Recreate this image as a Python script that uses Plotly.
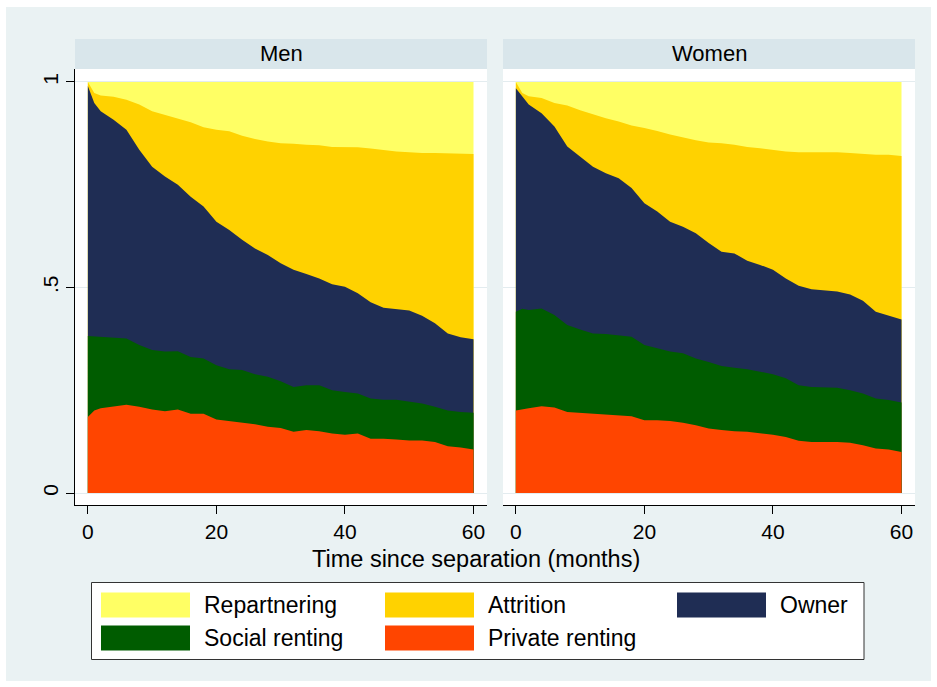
import plotly.graph_objects as go

# ---- data (cumulative upper boundaries of each stacked layer) ----
months = [0, 1, 2, 4, 6, 8, 10, 12, 14, 16, 18, 20, 22, 24, 26, 28, 30,
          32, 34, 36, 38, 40, 42, 44, 46, 48, 50, 52, 54, 56, 58, 60]

men_repartnering = [1.0] * 32
men_attrition = [1.000, 0.973, 0.967, 0.964, 0.957, 0.945, 0.929, 0.920, 0.912, 0.902, 0.890,
                 0.884, 0.880, 0.869, 0.861, 0.855, 0.851, 0.850, 0.847, 0.846, 0.842, 0.841,
                 0.841, 0.838, 0.834, 0.831, 0.829, 0.827, 0.827, 0.826, 0.825, 0.825]
men_owner = [0.990, 0.949, 0.929, 0.908, 0.884, 0.835, 0.794, 0.770, 0.750, 0.721, 0.697,
             0.660, 0.640, 0.616, 0.595, 0.579, 0.559, 0.543, 0.533, 0.522, 0.508, 0.502,
             0.486, 0.464, 0.451, 0.448, 0.444, 0.431, 0.413, 0.388, 0.379, 0.374]
men_social = [0.382, 0.381, 0.380, 0.378, 0.376, 0.360, 0.348, 0.344, 0.345, 0.331, 0.327,
              0.311, 0.301, 0.299, 0.289, 0.283, 0.272, 0.258, 0.262, 0.262, 0.250, 0.246,
              0.242, 0.230, 0.227, 0.227, 0.222, 0.218, 0.210, 0.201, 0.197, 0.195]
men_private = [0.185, 0.201, 0.206, 0.210, 0.215, 0.210, 0.203, 0.199, 0.203, 0.193, 0.193,
               0.179, 0.175, 0.171, 0.167, 0.161, 0.158, 0.149, 0.153, 0.150, 0.145, 0.142,
               0.145, 0.132, 0.132, 0.130, 0.128, 0.128, 0.124, 0.114, 0.111, 0.106]

women_repartnering = [1.0] * 32
women_attrition = [1.000, 0.973, 0.965, 0.961, 0.949, 0.943, 0.931, 0.921, 0.912, 0.904, 0.894,
                   0.888, 0.881, 0.872, 0.865, 0.858, 0.853, 0.851, 0.847, 0.842, 0.839, 0.835,
                   0.831, 0.829, 0.829, 0.829, 0.829, 0.827, 0.825, 0.823, 0.823, 0.820]
women_owner = [0.985, 0.965, 0.945, 0.924, 0.892, 0.843, 0.819, 0.794, 0.778, 0.766, 0.742,
               0.705, 0.685, 0.660, 0.648, 0.632, 0.608, 0.587, 0.583, 0.565, 0.555, 0.543,
               0.522, 0.504, 0.496, 0.493, 0.490, 0.483, 0.468, 0.441, 0.431, 0.422]
women_social = [0.441, 0.448, 0.445, 0.449, 0.433, 0.409, 0.398, 0.388, 0.387, 0.384, 0.380,
                0.360, 0.352, 0.344, 0.340, 0.327, 0.319, 0.309, 0.305, 0.301, 0.295, 0.289,
                0.279, 0.262, 0.258, 0.257, 0.256, 0.250, 0.242, 0.230, 0.226, 0.220]
women_private = [0.201, 0.203, 0.206, 0.211, 0.208, 0.197, 0.195, 0.193, 0.191, 0.189, 0.187,
                 0.177, 0.177, 0.175, 0.171, 0.165, 0.157, 0.153, 0.150, 0.149, 0.145, 0.142,
                 0.136, 0.127, 0.124, 0.124, 0.124, 0.122, 0.116, 0.108, 0.106, 0.100]

layer_names = ["Repartnering", "Attrition", "Owner", "Social renting", "Private renting"]
layer_colors = ["#FFFF64", "#FFD200", "#1F2D54", "#005C00", "#FF4500"]
panel_titles = ["Men", "Women"]
x_ticks = [0, 20, 40, 60]
y_tickvals = [0, 0.5, 1]
y_ticktext = ["0", ".5", "1"]

W, H = 937, 687
FONT = "Liberation Sans, Arial, Helvetica, sans-serif"
BG = "#EAF2F3"


def px(x):
    return x / W


def py(y):
    return 1 - y / H


fig = go.Figure()

panels = [
    ("x", "y", [men_repartnering, men_attrition, men_owner, men_social, men_private]),
    ("x2", "y2", [women_repartnering, women_attrition, women_owner, women_social, women_private]),
]
for xa, ya, layers in panels:
    for name, color, vals in zip(layer_names, layer_colors, layers):
        fig.add_trace(go.Scatter(
            x=months, y=vals, name=name, mode="lines", fill="tozeroy",
            fillcolor=color, line=dict(width=0, color=color),
            xaxis=xa, yaxis=ya, showlegend=False, hoverinfo="x+y+name"))

y_dom = [py(505), py(69)]
x_range = [-2.0, 62.1]
y_range = [-0.0292, 1.0316]

common_x = dict(range=x_range, tickvals=x_ticks, ticks="outside", ticklen=8, tickwidth=1,
                tickcolor="#000", showline=True, linecolor="#000", linewidth=1,
                showgrid=False, zeroline=False,
                tickfont=dict(family=FONT, size=21, color="#000"))
fig.update_layout(
    width=W, height=H,
    margin=dict(l=0, r=0, t=0, b=0),
    paper_bgcolor=BG, plot_bgcolor="white",
    xaxis=dict(domain=[px(75), px(487)], anchor="y", **common_x),
    xaxis2=dict(domain=[px(503), px(915)], anchor="y2", **common_x),
    yaxis=dict(domain=y_dom, range=y_range, tickvals=y_tickvals, ticktext=y_ticktext,
               tickangle=-90, ticks="outside", ticklen=8, tickwidth=1, tickcolor="#000",
               showline=True, linecolor="#000", linewidth=1, zeroline=False,
               showgrid=True, gridcolor="#E3ECEF", gridwidth=1,
               tickfont=dict(family=FONT, size=21, color="#000")),
    yaxis2=dict(domain=y_dom, range=y_range, tickvals=y_tickvals, anchor="x2",
                showticklabels=False, ticks="", showline=False, zeroline=False,
                showgrid=True, gridcolor="#E3ECEF", gridwidth=1),
    showlegend=False,
)

shapes = []
annotations = []

# white outer border
for x0, y0, x1, y1 in [(0, 0, W, 7), (0, 681, W, H), (0, 0, 6, H), (931, 0, W, H)]:
    shapes.append(dict(type="rect", xref="paper", yref="paper", x0=px(x0), x1=px(x1),
                       y0=py(y1), y1=py(y0), fillcolor="white", line=dict(width=0),
                       layer="above"))

# strips
for (x0, x1), title in zip([(75, 487), (503, 915)], panel_titles):
    shapes.append(dict(type="rect", xref="paper", yref="paper", x0=px(x0), x1=px(x1),
                       y0=py(69), y1=py(39), fillcolor="#D9E6EB", line=dict(width=0)))
    annotations.append(dict(text=title, xref="paper", yref="paper", x=px((x0 + x1) / 2),
                            y=py(54), xanchor="center", yanchor="middle", showarrow=False,
                            font=dict(family=FONT, size=22, color="#000")))

# x axis title
annotations.append(dict(text="Time since separation (months)", xref="paper", yref="paper",
                        x=px(476), y=py(559), xanchor="center", yanchor="middle",
                        showarrow=False, font=dict(family=FONT, size=23.5, color="#000")))

# legend box
shapes.append(dict(type="rect", xref="paper", yref="paper", x0=px(91.5), x1=px(864),
                   y0=py(659.5), y1=py(582.5), fillcolor="white",
                   line=dict(color="#333", width=1)))
legend_pos = [(101, 605), (385, 605), (677, 605), (101, 638), (385, 638)]
for (lx, ly), name, color in zip(legend_pos, layer_names, layer_colors):
    shapes.append(dict(type="rect", xref="paper", yref="paper", x0=px(lx), x1=px(lx + 89),
                       y0=py(ly + 12.5), y1=py(ly - 12.5), fillcolor=color,
                       line=dict(width=0)))
    annotations.append(dict(text=name, xref="paper", yref="paper", x=px(lx + 101),
                            y=py(ly), xanchor="left", yanchor="middle", showarrow=False,
                            font=dict(family=FONT, size=23, color="#000")))

fig.update_layout(shapes=shapes, annotations=annotations)
fig.write_html("out.html",
               config={"displayModeBar": False},
               post_script="document.body.style.margin='0';"
                           "document.body.style.overflow='hidden';")
